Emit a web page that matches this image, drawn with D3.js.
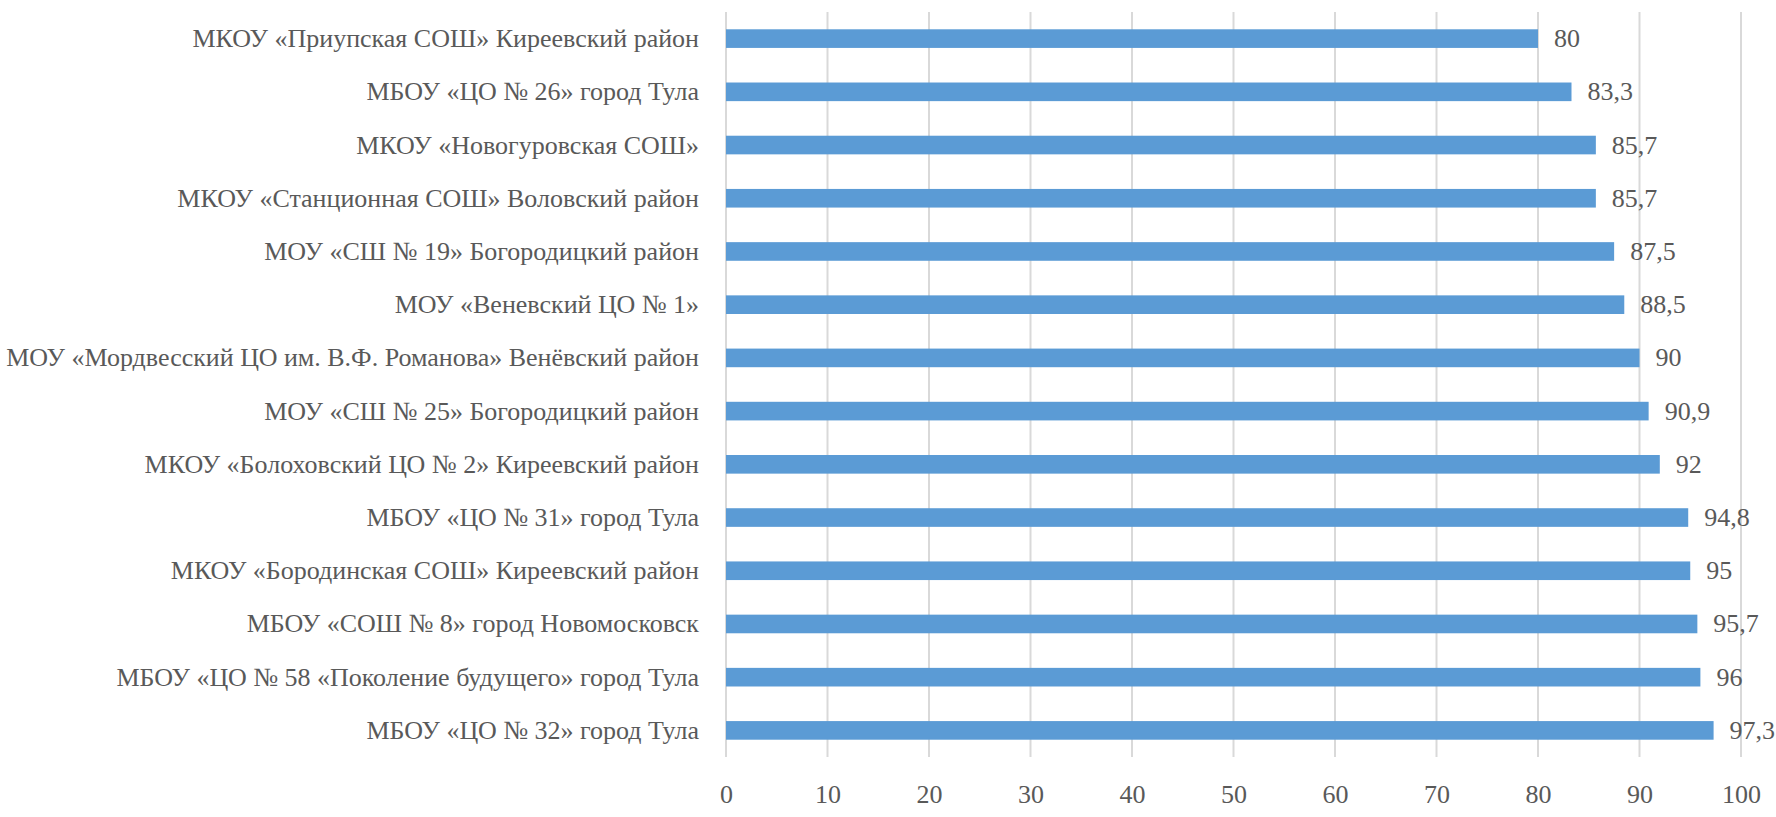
<!DOCTYPE html>
<html><head><meta charset="utf-8">
<script src="https://cdn.jsdelivr.net/npm/d3@7"></script>
<style>body{margin:0;background:#fff;} svg{display:block;}</style>
</head><body>
<svg id="c" width="1776" height="817"></svg>
<script>
const categories = [
  "МКОУ «Приупская СОШ» Киреевский район",
  "МБОУ «ЦО № 26» город Тула",
  "МКОУ «Новогуровская СОШ»",
  "МКОУ «Станционная СОШ» Воловский район",
  "МОУ «СШ № 19» Богородицкий район",
  "МОУ «Веневский ЦО № 1»",
  "МОУ «Мордвесский ЦО им. В.Ф. Романова» Венёвский район",
  "МОУ «СШ № 25» Богородицкий район",
  "МКОУ «Болоховский ЦО № 2» Киреевский район",
  "МБОУ «ЦО № 31» город Тула",
  "МКОУ «Бородинская СОШ» Киреевский район",
  "МБОУ «СОШ № 8» город Новомосковск",
  "МБОУ «ЦО № 58 «Поколение будущего» город Тула",
  "МБОУ «ЦО № 32» город Тула"
];
const values = [80, 83.3, 85.7, 85.7, 87.5, 88.5, 90, 90.9, 92, 94.8, 95, 95.7, 96, 97.3];
const valueLabels = ["80","83,3","85,7","85,7","87,5","88,5","90","90,9","92","94,8","95","95,7","96","97,3"];
const ticks = [0,10,20,30,40,50,60,70,80,90,100];

(function(){
const svg = d3.select("#c");
const mLeft = 726, mRight = 1741, mTop = 12, mBottom = 757;
const x = d3.scaleLinear().domain([0,100]).range([mLeft,mRight]);
const y = d3.scaleBand().domain(categories).range([mTop,mBottom]).paddingInner(0.65).paddingOuter(0.325);
const font = "'Liberation Serif', serif";
const txt = "#595959";

svg.append("g").selectAll("line").data(ticks).join("line")
  .attr("x1", d=>x(d)).attr("x2", d=>x(d)).attr("y1", mTop).attr("y2", mBottom)
  .attr("stroke", "#d9d9d9").attr("stroke-width", 2);

svg.append("g").selectAll("rect").data(values).join("rect")
  .attr("x", x(0)).attr("y", (d,i)=>y(categories[i]))
  .attr("width", d=>x(d)-x(0)).attr("height", y.bandwidth())
  .attr("fill", "#5b9bd5");

svg.append("g").selectAll("text").data(values).join("text")
  .attr("x", d=>x(d)+16).attr("y", (d,i)=>y(categories[i])+y.bandwidth()/2)
  .attr("dominant-baseline","central")
  .attr("font-family", font).attr("font-size", 26).attr("fill", txt)
  .text((d,i)=>valueLabels[i]);

const yAxis = d3.axisLeft(y).tickSize(0).tickPadding(27);
const ga = svg.append("g").attr("transform", `translate(${mLeft},0)`).call(yAxis);
ga.select(".domain").remove();
ga.selectAll("text").attr("font-family", font).attr("font-size", 26).attr("fill", txt)
  .attr("dy", null).attr("dominant-baseline","central");

const xAxis = d3.axisBottom(x).tickValues(ticks).tickSize(0).tickPadding(0).tickFormat(d=>String(d));
const gx = svg.append("g").attr("transform", `translate(0,${mBottom})`).call(xAxis);
gx.select(".domain").remove();
gx.selectAll("text").attr("font-family", font).attr("font-size", 26).attr("fill", txt)
  .attr("dy", null).attr("y", 37).attr("dominant-baseline","central");
})();
</script>
</body></html>
